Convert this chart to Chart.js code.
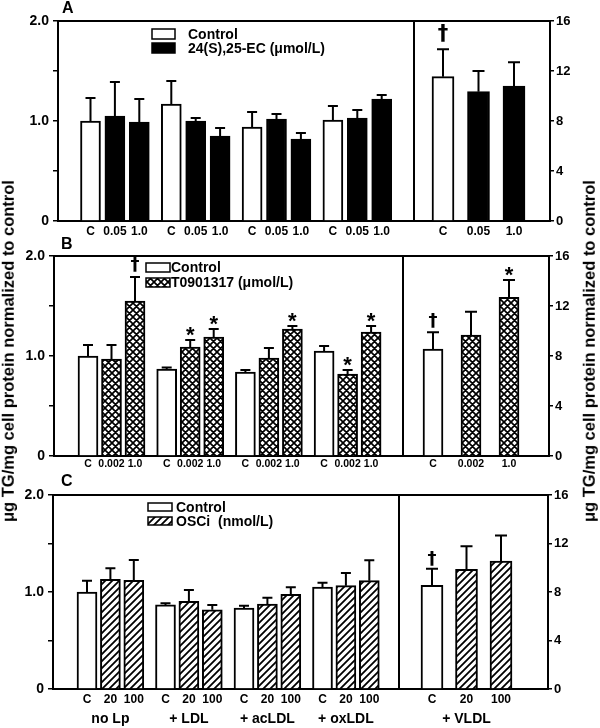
<!DOCTYPE html>
<html><head><meta charset="utf-8">
<script src="https://cdn.jsdelivr.net/npm/chart.js@4/dist/chart.umd.min.js"></script>
<style>
html,body{margin:0;padding:0;background:#fff;}
body{width:600px;height:728px;position:relative;overflow:hidden;font-family:"Liberation Sans",Arial,sans-serif;color:#000;}
canvas{position:absolute;left:0;}
.yt{position:absolute;font-weight:bold;font-size:16.5px;white-space:nowrap;transform:translate(-50%,-50%) rotate(-90deg);line-height:1;}
.pl{position:absolute;font-weight:bold;font-size:16px;line-height:1;}
</style></head><body>
<canvas id="cA" width="600" height="240" style="top:0px"></canvas>
<canvas id="cB" width="600" height="236" style="top:240px"></canvas>
<canvas id="cC" width="600" height="252" style="top:476px"></canvas>
<div class="pl" id="pA" style="left:62px;top:0px"></div>
<div class="pl" id="pB" style="left:61px;top:236px"></div>
<div class="pl" id="pC" style="left:61px;top:473px"></div>
<div class="yt" id="ytL" style="left:8px;top:351px"></div>
<div class="yt" id="ytR" style="left:589px;top:351px"></div>
<script>
// ================= DATA =================
const yTitle = 'μg TG/mg cell protein normalized to control';
const panelLetters = ['A', 'B', 'C'];
const groupLabels = ['no Lp', '+ LDL', '+ acLDL', '+ oxLDL'];
const vldlLabel = '+ VLDL';
const controlLabel = 'Control';
const leftTickValues = [0, 0.5, 1, 1.5, 2];
const leftTickLabels = ['0', '', '1.0', '', '2.0'];
const rightTickValues = [0, 4, 8, 12, 16];
const rightTickLabels = ['0', '4', '8', '12', '16'];

// Panel A : 24(S),25-EC
const treatA = '24(S),25-EC (μmol/L)';
const dosesA = ['C', '0.05', '1.0'];
const ctrlA = [1.00, 1.17, 0.94, 1.01];
const ctrlErrA = [0.23, 0.23, 0.15, 0.14];
const ctrlMarksA = ['', '', '', ''];
const lowA = [1.05, 1.00, 1.02, 1.03];
const lowErrA = [0.34, 0.03, 0.05, 0.08];
const lowMarksA = ['', '', '', ''];
const highA = [0.99, 0.85, 0.82, 1.22];
const highErrA = [0.23, 0.08, 0.06, 0.04];
const highMarksA = ['', '', '', ''];
const vldlA = [11.55, 10.35, 10.8];
const vldlErrA = [2.2, 1.65, 1.9];
const vldlMarksA = ['†', '', ''];

// Panel B : T0901317
const treatB = 'T0901317 (μmol/L)';
const dosesB = ['C', '0.002', '1.0'];
const ctrlB = [1.00, 0.87, 0.84, 1.05];
const ctrlErrB = [0.11, 0.015, 0.02, 0.05];
const ctrlMarksB = ['', '', '', ''];
const lowB = [0.97, 1.09, 0.98, 0.82];
const lowErrB = [0.14, 0.07, 0.10, 0.04];
const lowMarksB = ['', '*', '', '*'];
const highB = [1.55, 1.19, 1.27, 1.24];
const highErrB = [0.24, 0.08, 0.03, 0.06];
const highMarksB = ['†', '*', '*', '*'];
const vldlB = [8.56, 9.68, 12.7];
const vldlErrB = [1.34, 1.86, 1.38];
const vldlMarksB = ['†', '', '*'];

// Panel C : OSCi
const treatC = 'OSCi  (nmol/L)';
const dosesC = ['C', '20', '100'];
const ctrlC = [1.00, 0.867, 0.835, 1.05];
const ctrlErrC = [0.117, 0.017, 0.022, 0.046];
const ctrlMarksC = ['', '', '', ''];
const lowC = [1.13, 0.905, 0.875, 1.065];
const lowErrC = [0.115, 0.115, 0.067, 0.13];
const lowMarksC = ['', '', '', ''];
const highC = [1.12, 0.816, 0.977, 1.117];
const highErrC = [0.21, 0.05, 0.073, 0.21];
const highMarksC = ['', '', '', ''];
const vldlC = [8.56, 9.86, 10.54];
const vldlErrC = [1.36, 1.92, 2.13];
const vldlMarksC = ['†', '', ''];

// ================= STYLE / LAYOUT =================
const FONT = '"Liberation Sans", Arial, sans-serif';
const MARKFONT = '"DejaVu Sans", "Liberation Sans", sans-serif';

function makePattern(kind) {
  const s = 7, c = document.createElement('canvas');
  c.width = s; c.height = s;
  const g = c.getContext('2d');
  g.fillStyle = '#fff'; g.fillRect(0, 0, s, s);
  g.strokeStyle = '#000';
  g.lineWidth = kind === 'cross' ? 1.7 : 1.8;
  g.beginPath();
  g.moveTo(-1, s + 1); g.lineTo(s + 1, -1);
  g.moveTo(-1, 1); g.lineTo(1, -1);
  g.moveTo(s - 1, s + 1); g.lineTo(s + 1, s - 1);
  if (kind === 'cross') {
    g.moveTo(-1, -1); g.lineTo(s + 1, s + 1);
    g.moveTo(s - 1, -1); g.lineTo(s + 1, 1);
    g.moveTo(-1, s - 1); g.lineTo(1, s + 1);
  }
  g.stroke();
  return g.createPattern(c, 'repeat');
}

const decorPlugin = {
  id: 'decor',
  afterDatasetsDraw(chart) {
    const ctx = chart.ctx;
    const L = chart.options.plugins.decor;
    chart.data.datasets.forEach((ds, di) => {
      const meta = chart.getDatasetMeta(di);
      const ys = chart.scales[ds.yAxisID];
      meta.data.forEach((el, i) => {
        const v = ds.data[i].y, e = ds.errs[i];
        const yTop = ys.getPixelForValue(v + e);
        const cap = ds.yAxisID === 'y' ? L.cap : L.rcap;
        ctx.save();
        ctx.strokeStyle = '#000'; ctx.lineWidth = 2;
        ctx.beginPath();
        ctx.moveTo(el.x, el.y); ctx.lineTo(el.x, yTop);
        ctx.moveTo(el.x - cap, yTop); ctx.lineTo(el.x + cap, yTop);
        ctx.stroke();
        const m = ds.marks[i];
        if (m) {
          const star = m === '*';
          const fs = star ? L.starSize : L.dagSize;
          const cy = yTop - (star ? L.starOff : L.dagOff);
          ctx.fillStyle = '#000';
          ctx.font = 'bold ' + fs + 'px ' + (star ? FONT : MARKFONT);
          ctx.textAlign = 'center'; ctx.textBaseline = 'alphabetic';
          ctx.fillText(m, el.x, cy + (star ? 0.56 : 0.3) * fs);
        }
        ctx.restore();
      });
    });
  },
  afterDraw(chart) {
    const ctx = chart.ctx;
    const L = chart.options.plugins.decor;
    const a = chart.chartArea;
    ctx.save();
    ctx.strokeStyle = '#000'; ctx.lineWidth = 2;
    ctx.beginPath();
    ctx.moveTo(a.left - 1, a.top); ctx.lineTo(a.right + 1, a.top);
    const xd = chart.scales.x.getPixelForValue(L.div - L.left);
    ctx.moveTo(xd, a.top); ctx.lineTo(xd, a.bottom);
    ctx.stroke();
    // legend
    const lg = L.legend;
    L.legendItems.forEach((it, k) => {
      const cy = lg.y + k * lg.dy;
      ctx.fillStyle = it.fill;
      ctx.fillRect(lg.x, cy - lg.bh / 2, lg.bw, lg.bh);
      ctx.lineWidth = 1.5; ctx.strokeStyle = '#000';
      ctx.strokeRect(lg.x, cy - lg.bh / 2, lg.bw, lg.bh);
      ctx.fillStyle = '#000';
      ctx.font = 'bold 14px ' + FONT;
      ctx.textAlign = 'left'; ctx.textBaseline = 'middle';
      ctx.fillText(it.label, lg.tx, cy + 1);
    });
    // group labels
    if (L.groupY) {
      ctx.font = 'bold 14px ' + FONT;
      ctx.textAlign = 'center'; ctx.textBaseline = 'middle';
      ctx.fillStyle = '#000';
      L.groupItems.forEach(g => {
        ctx.fillText(g.label, chart.scales.x.getPixelForValue(g.x), L.groupY);
      });
    }
    ctx.restore();
  }
};

function buildPanel(L, D) {
  const pos = (g, j) => L.first + g * L.gPitch + j * L.bPitch;
  const rpos = j => L.rFirst + j * L.rPitch;
  const base = {borderColor: '#000', borderWidth: 2, grouped: false, borderSkipped: 'start'};
  const left = (label, vals, errs, marks, j, fill) => Object.assign({
    label, data: vals.map((v, g) => ({x: pos(g, j), y: v})), errs, marks,
    yAxisID: 'y', backgroundColor: fill, barThickness: L.bw}, base);
  const datasets = [
    left(controlLabel, D.ctrl, D.ctrlErr, D.ctrlMarks, 0, '#fff'),
    left(D.treat + ' ' + D.doses[1], D.low, D.lowErr, D.lowMarks, 1, D.fill),
    left(D.treat + ' ' + D.doses[2], D.high, D.highErr, D.highMarks, 2, D.fill),
    Object.assign({label: controlLabel + ' ' + vldlLabel,
      data: [{x: rpos(0), y: D.vldl[0]}], errs: [D.vldlErr[0]], marks: [D.vldlMarks[0]],
      yAxisID: 'y2', backgroundColor: '#fff', barThickness: L.rbw}, base),
    Object.assign({label: D.treat + ' ' + vldlLabel,
      data: [{x: rpos(1), y: D.vldl[1]}, {x: rpos(2), y: D.vldl[2]}],
      errs: [D.vldlErr[1], D.vldlErr[2]], marks: [D.vldlMarks[1], D.vldlMarks[2]],
      yAxisID: 'y2', backgroundColor: D.fill, barThickness: L.rbw}, base)
  ];
  const xPos = [], xLab = [];
  for (let g = 0; g < groupLabels.length; g++)
    for (let j = 0; j < 3; j++) { xPos.push(pos(g, j)); xLab.push(D.doses[j]); }
  for (let j = 0; j < 3; j++) { xPos.push(rpos(j)); xLab.push(D.doses[j]); }
  const groupItems = groupLabels.map((lab, g) => ({label: lab, x: pos(g, 1)}))
    .concat([{label: vldlLabel, x: rpos(1)}]);

  const tickFont = sz => ({family: FONT, size: sz, weight: 'bold'});
  new Chart(document.getElementById(L.canvas), {
    type: 'bar',
    data: {datasets},
    options: {
      responsive: false, animation: false, devicePixelRatio: 1,
      layout: {padding: {top: L.top, left: 0, right: 0, bottom: 0}},
      plugins: {
        legend: {display: false}, tooltip: {enabled: false},
        decor: Object.assign({}, L, {
          legendItems: [{label: controlLabel, fill: '#fff'}, {label: D.treat, fill: D.fill}],
          groupItems
        })
      },
      scales: {
        x: {
          type: 'linear', min: 0, max: L.right - L.left, offset: false, position: 'bottom',
          afterBuildTicks: s => { s.ticks = xPos.map(v => ({value: v})); },
          afterFit: s => { s.height = L.H - L.bottom; },
          ticks: {autoSkip: false, maxRotation: 0, minRotation: 0, padding: L.xPad, color: '#000',
            font: tickFont(L.xFont), callback: (v, i) => xLab[i]},
          grid: {display: true, drawOnChartArea: false, drawTicks: false, offset: false},
          border: {display: true, color: '#000', width: 2}
        },
        y: {
          type: 'linear', position: 'left', min: 0, max: 2,
          afterBuildTicks: s => { s.ticks = leftTickValues.map(v => ({value: v})); },
          afterFit: s => { s.width = L.left; },
          ticks: {padding: 4, color: '#000', font: tickFont(14), callback: (v, i) => leftTickLabels[i]},
          grid: {display: true, drawOnChartArea: false, drawTicks: true, tickLength: 5, color: '#000', lineWidth: 1.5},
          border: {display: true, color: '#000', width: 2}
        },
        y2: {
          type: 'linear', position: 'right', min: 0, max: 16,
          afterBuildTicks: s => { s.ticks = rightTickValues.map(v => ({value: v})); },
          afterFit: s => { s.width = 600 - L.right; },
          ticks: {padding: 2, color: '#000', font: tickFont(13), callback: (v, i) => rightTickLabels[i]},
          grid: {display: true, drawOnChartArea: false, drawTicks: true, tickLength: 4, color: '#000', lineWidth: 1.5},
          border: {display: true, color: '#000', width: 2}
        }
      }
    },
    plugins: [decorPlugin]
  });
}

buildPanel(
  {canvas: 'cA', H: 240, top: 21, bottom: 221, left: 58, right: 550, div: 414,
   first: 32.5, gPitch: 80.8, bPitch: 24.4, rFirst: 385, rPitch: 35.5, bw: 20, rbw: 22,
   cap: 5, rcap: 6, xPad: 3, xFont: 12, dagSize: 21, dagOff: 15, starSize: 24, starOff: 10,
   legend: {x: 152, y: 34, dy: 14, bw: 23, bh: 10, tx: 188}},
  {treat: treatA, doses: dosesA, fill: '#000',
   ctrl: ctrlA, ctrlErr: ctrlErrA, ctrlMarks: ctrlMarksA,
   low: lowA, lowErr: lowErrA, lowMarks: lowMarksA,
   high: highA, highErr: highErrA, highMarks: highMarksA,
   vldl: vldlA, vldlErr: vldlErrA, vldlMarks: vldlMarksA});

buildPanel(
  {canvas: 'cB', H: 236, top: 16, bottom: 216, left: 54, right: 549, div: 403,
   first: 34, gPitch: 78.7, bPitch: 23.5, rFirst: 379, rPitch: 38, bw: 20, rbw: 20,
   cap: 5, rcap: 6, xPad: 2, xFont: 10.5, dagSize: 18, dagOff: 12, starSize: 22, starOff: 10,
   legend: {x: 146, y: 27.5, dy: 15, bw: 24, bh: 9, tx: 171}},
  {treat: treatB, doses: dosesB, fill: makePattern('cross'),
   ctrl: ctrlB, ctrlErr: ctrlErrB, ctrlMarks: ctrlMarksB,
   low: lowB, lowErr: lowErrB, lowMarks: lowMarksB,
   high: highB, highErr: highErrB, highMarks: highMarksB,
   vldl: vldlB, vldlErr: vldlErrB, vldlMarks: vldlMarksB});

buildPanel(
  {canvas: 'cC', H: 252, top: 19, bottom: 213, left: 53, right: 548, div: 399,
   first: 34, gPitch: 78.5, bPitch: 23.4, rFirst: 379, rPitch: 34.5, bw: 20, rbw: 22,
   cap: 5, rcap: 6, xPad: 3, xFont: 12, dagSize: 18, dagOff: 10, starSize: 22, starOff: 10,
   legend: {x: 148, y: 31, dy: 14, bw: 24, bh: 8, tx: 176}, groupY: 243},
  {treat: treatC, doses: dosesC, fill: makePattern('hatch'),
   ctrl: ctrlC, ctrlErr: ctrlErrC, ctrlMarks: ctrlMarksC,
   low: lowC, lowErr: lowErrC, lowMarks: lowMarksC,
   high: highC, highErr: highErrC, highMarks: highMarksC,
   vldl: vldlC, vldlErr: vldlErrC, vldlMarks: vldlMarksC});

document.getElementById('pA').textContent = panelLetters[0];
document.getElementById('pB').textContent = panelLetters[1];
document.getElementById('pC').textContent = panelLetters[2];
document.getElementById('ytL').textContent = yTitle;
document.getElementById('ytR').textContent = yTitle;
</script>
</body></html>
